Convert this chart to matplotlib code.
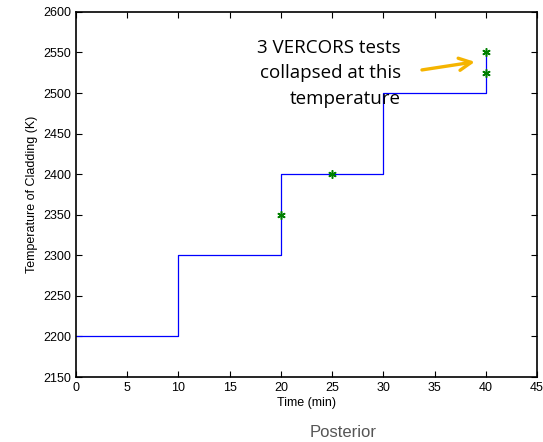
import matplotlib
matplotlib.use('Agg')
import matplotlib.pyplot as plt

# step profile of cladding temperature
step_t = [0, 10, 10, 20, 20, 30, 30, 40, 40]
step_T = [2200, 2200, 2300, 2300, 2400, 2400, 2500, 2500, 2550]

# VERCORS collapse points
test_t = [20, 25, 40, 40]
test_T = [2350, 2400, 2525, 2550]

xticks = list(range(0, 50, 5))
yticks = list(range(2150, 2650, 50))

plt.rcParams['font.family'] = ['Liberation Sans', 'DejaVu Sans']

fig = plt.figure(figsize=(5.43, 4.42), dpi=100)
ax = fig.add_axes([0.140, 0.147, 0.849, 0.826])

ax.plot(step_t, step_T, color='#0000ff', lw=0.9)
ax.plot(test_t, test_T, ls='none', marker=(6, 2, 0), color='#008000',
        ms=6, mew=1.1)

ax.set_xlim(0, 45)
ax.set_ylim(2150, 2600)
ax.set_xticks(xticks)
ax.set_yticks(yticks)
ax.tick_params(direction='in', top=True, right=True, labelsize=9, length=4)
for s in ax.spines.values():
    s.set_linewidth(1.2)

ax.set_xlabel('Time (min)', fontsize=9, labelpad=2)
ax.set_ylabel('Temperature of Cladding (K)', fontsize=9)

ax.text(31.7, 2567, '3 VERCORS tests\ncollapsed at this\ntemperature',
        ha='right', va='top', fontsize=13.5, family=['Open Sans', 'DejaVu Sans'],
        linespacing=1.55)
ax.annotate('', xy=(39.2, 2539), xytext=(33.5, 2528),
            arrowprops=dict(arrowstyle='->', color='#f5b400', lw=2.4,
                            mutation_scale=22))

fig.text(0.632, 0.005, 'Posterior', fontsize=12, color='#555555',
         ha='center', va='bottom')

fig.savefig('out.png', dpi=100)
